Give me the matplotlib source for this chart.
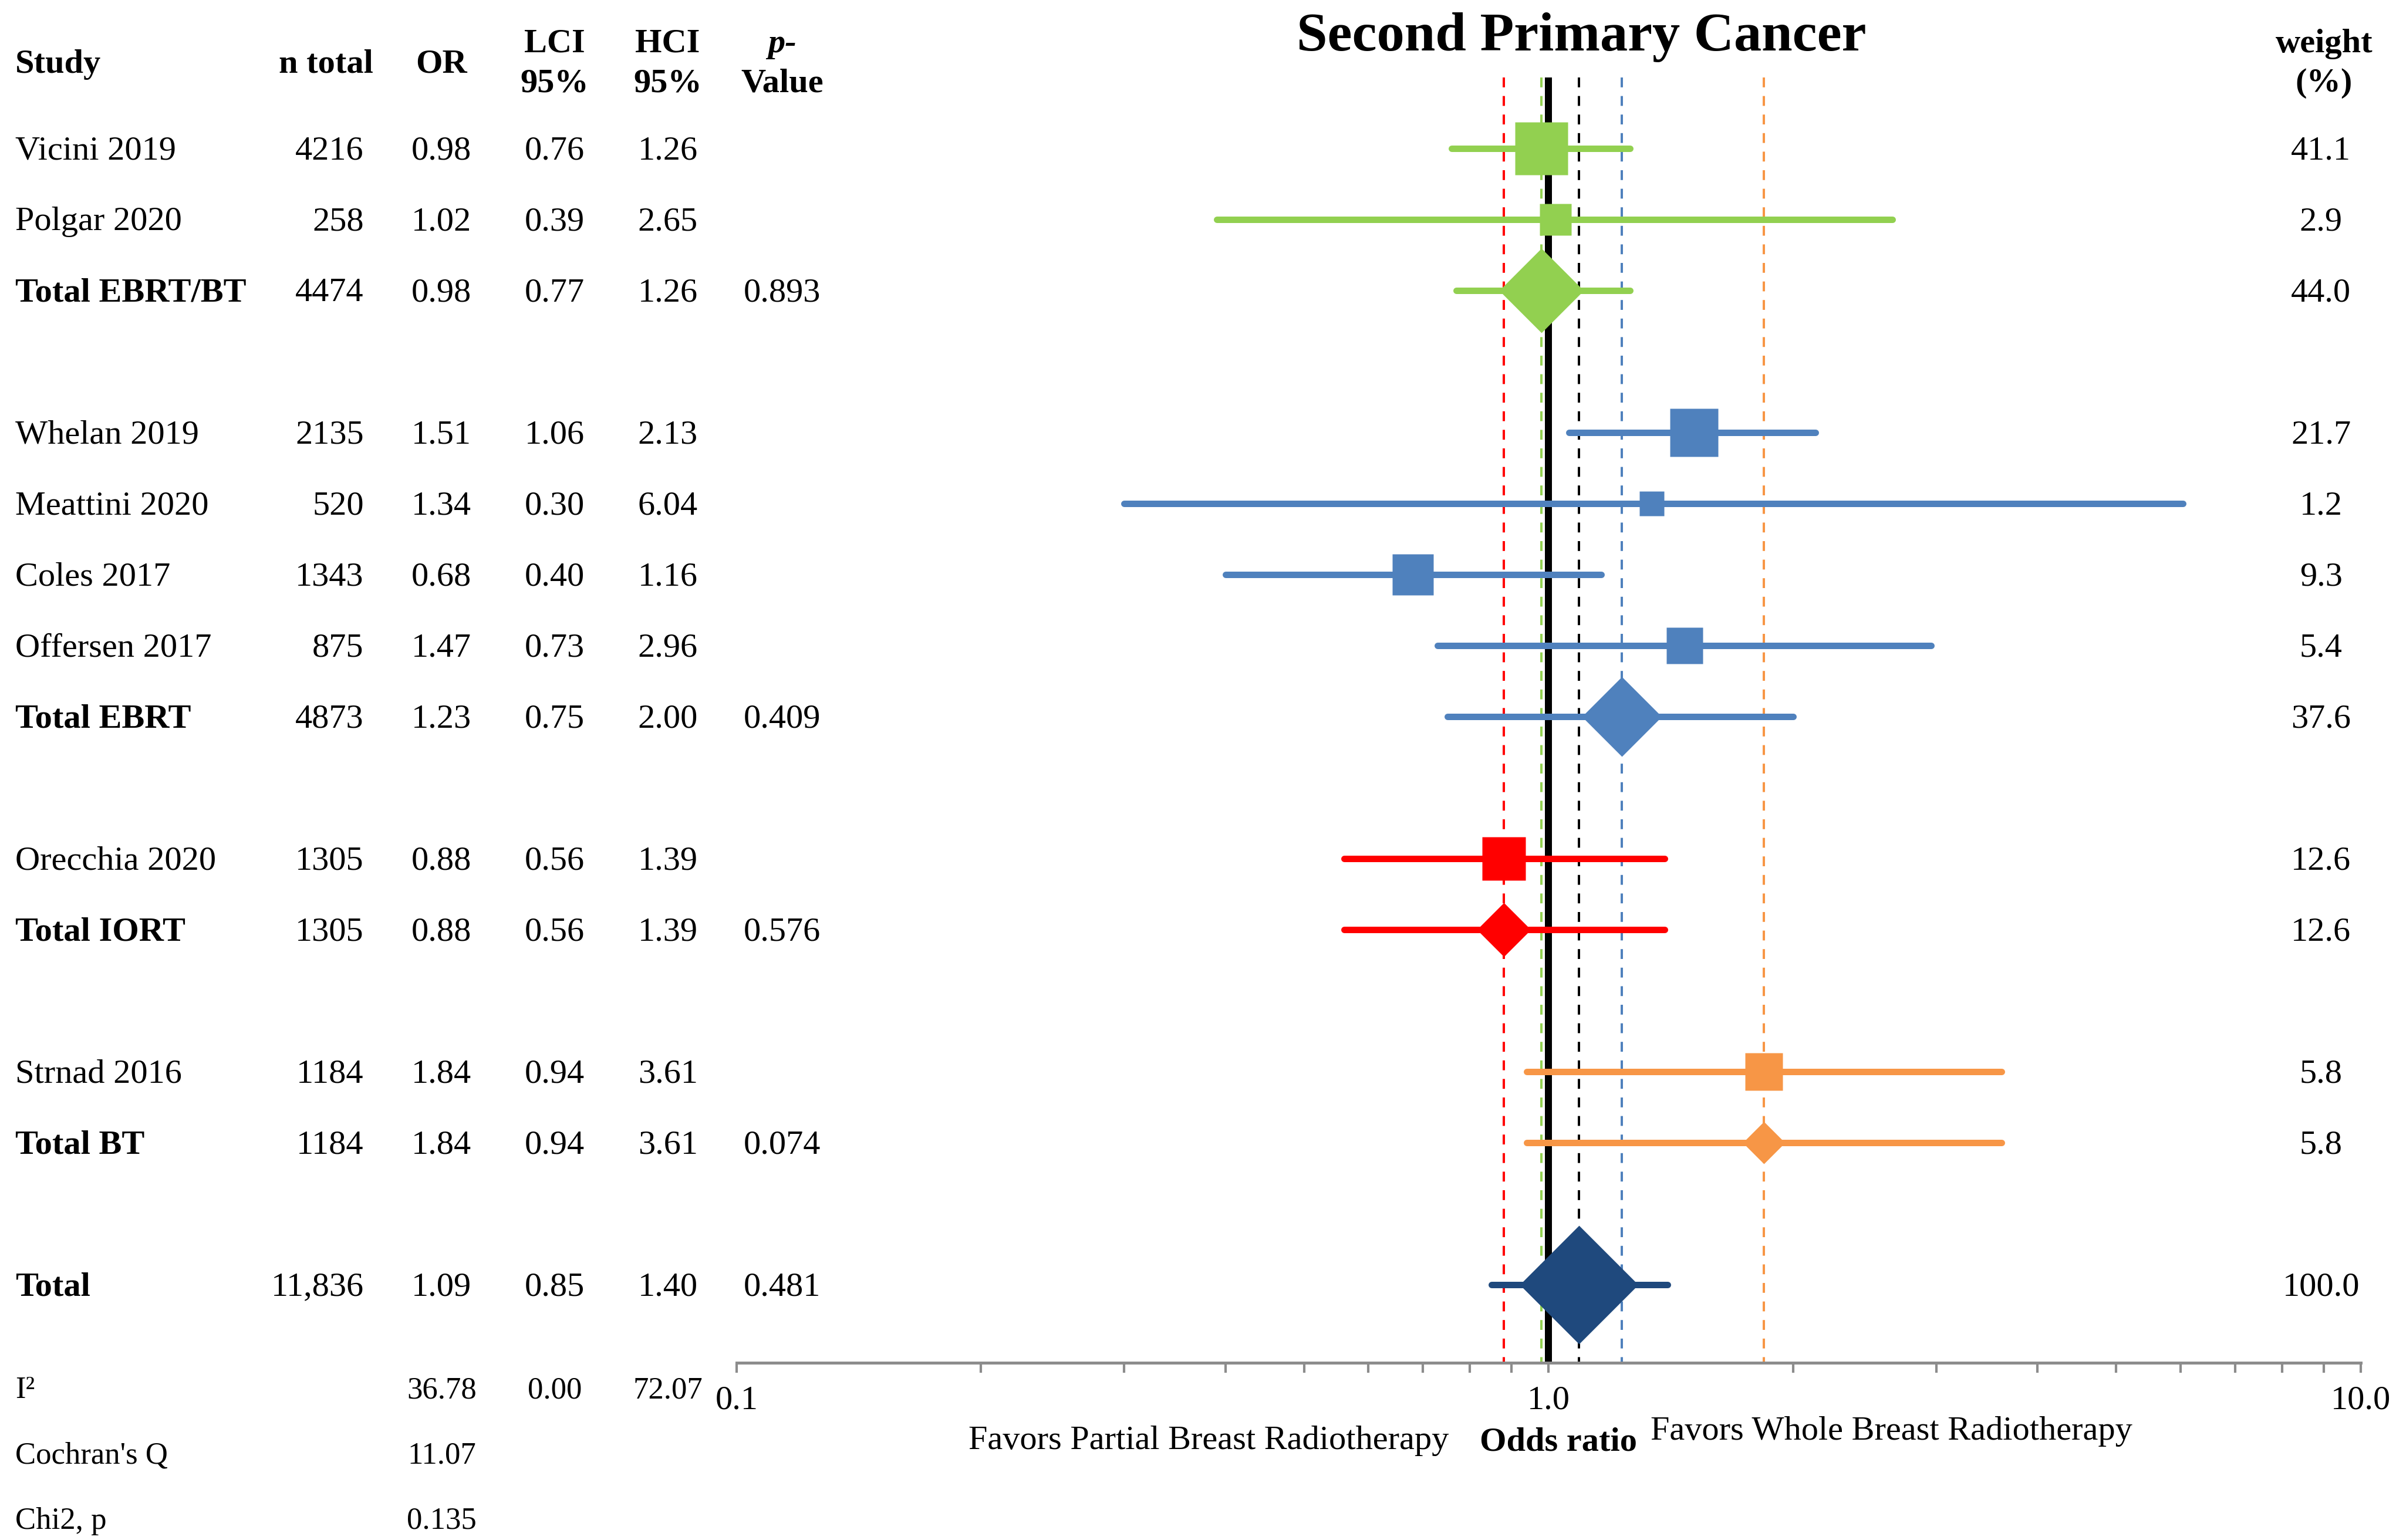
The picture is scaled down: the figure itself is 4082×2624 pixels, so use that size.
import numpy as np
import matplotlib
matplotlib.use("Agg")
import matplotlib.pyplot as plt
from matplotlib import transforms
from matplotlib.ticker import LogLocator, NullFormatter

plt.rcParams['font.family'] = ['Liberation Serif', 'DejaVu Serif']

# ---- data ----
studies = ["Vicini 2019", "Polgar 2020", "Total EBRT/BT",
           "Whelan 2019", "Meattini 2020", "Coles 2017", "Offersen 2017", "Total EBRT",
           "Orecchia 2020", "Total IORT",
           "Strnad 2016", "Total BT",
           "Total"]
groups = ["EBRT/BT"] * 3 + ["EBRT"] * 5 + ["IORT"] * 2 + ["BT"] * 2 + ["All"]
n_total = ["4216", "258", "4474", "2135", "520", "1343", "875", "4873",
           "1305", "1305", "1184", "1184", "11,836"]
odds = [0.98, 1.02, 0.98, 1.51, 1.34, 0.68, 1.47, 1.23, 0.88, 0.88, 1.84, 1.84, 1.09]
lci = [0.76, 0.39, 0.77, 1.06, 0.30, 0.40, 0.73, 0.75, 0.56, 0.56, 0.94, 0.94, 0.85]
hci = [1.26, 2.65, 1.26, 2.13, 6.04, 1.16, 2.96, 2.00, 1.39, 1.39, 3.61, 3.61, 1.40]
p_values = ["", "", "0.893", "", "", "", "", "0.409", "", "0.576", "", "0.074", "0.481"]
weights = [41.1, 2.9, 44.0, 21.7, 1.2, 9.3, 5.4, 37.6, 12.6, 12.6, 5.8, 5.8, 100.0]
is_total = [False, False, True, False, False, False, False, True, False, True, False, True, True]

stat_labels = ["I\u00b2", "Cochran's Q", "Chi2, p"]
stat_or = ["36.78", "11.07", "0.135"]
stat_lci = ["0.00", "", ""]
stat_hci = ["72.07", "", ""]

group_colors = {"EBRT/BT": "#92D050", "EBRT": "#4F81BD", "IORT": "#FF0000",
                "BT": "#F79646", "All": "#1F497D"}

# row positions: one blank row between groups
rows = []
y = 0
prev = groups[0]
for g in groups:
    if g != prev:
        y += 1
        prev = g
    rows.append(y)
    y += 1

DPI = 200
k = 72 / DPI  # pixels -> points
FS = 21
dy = 0.04  # small text nudge so glyphs sit on the row centre

fig = plt.figure(figsize=(20.41, 13.12), dpi=DPI)
ax = fig.add_axes([0.3074, 0.1151, 0.6779, 0.8849])
ax.set_xscale('log')
ax.set_xlim(0.1, 10)
y_bottom = 17.1
ax.set_ylim(y_bottom, -2.087)

# reference lines
ax.vlines(1.0, -1.0, y_bottom, color='black', lw=12 * k, zorder=2)
for i, g in enumerate(groups):
    if is_total[i]:
        c = 'black' if g == "All" else group_colors[g]
        ax.vlines(odds[i], -1.0, y_bottom, colors=c, lw=4 * k,
                  linestyles=(0, (4.2, 3.7)), zorder=1.5)

# CI lines and markers
for i, g in enumerate(groups):
    c = group_colors[g]
    r = rows[i]
    ax.plot([lci[i], hci[i]], [r, r], color=c, lw=11 * k,
            solid_capstyle='round', zorder=3)
    if is_total[i]:
        d = 32 + 17 * np.sqrt(weights[i])
        ax.plot(odds[i], r, marker='D', ms=d / np.sqrt(2) * k, color=c,
                mec='none', zorder=4)
    else:
        s = 40 + 13.5 * np.log(weights[i])
        ax.plot(odds[i], r, marker='s', ms=s * k, color=c, mec='none', zorder=4)

# axis styling
for sp in ['left', 'top', 'right']:
    ax.spines[sp].set_visible(False)
ax.spines['bottom'].set_color('#8c8c8c')
ax.spines['bottom'].set_linewidth(5 * k)
ax.set_yticks([])
ax.set_xticks([0.1, 1, 10])
ax.set_xticklabels(['0.1', '1.0', '10.0'])
ax.xaxis.set_minor_locator(LogLocator(base=10, subs=np.arange(2, 10)))
ax.xaxis.set_minor_formatter(NullFormatter())
ax.tick_params(axis='x', which='both', direction='out', color='#8c8c8c',
               width=1.5, length=6, labelsize=FS, pad=8)

# table text
bt = transforms.blended_transform_factory(fig.transFigure, ax.transData)
x_study, x_n, x_or, x_lci, x_hci, x_p, x_w = 0.0064, 0.1518, 0.1843, 0.2315, 0.2787, 0.3265, 0.9687

def txt(x, yy, s, ha='center', **kw):
    ax.text(x, yy + dy, s, transform=bt, ha=ha, va='center', fontsize=kw.pop('fontsize', FS),
            clip_on=False, **kw)

# headers
txt(x_study, -1.22, "Study", ha='left', fontweight='bold')
txt(0.136, -1.22, "n total", fontweight='bold')
txt(x_or, -1.22, "OR", fontweight='bold')
txt(x_lci, -1.51, "LCI", fontweight='bold')
txt(x_lci, -0.95, "95%", fontweight='bold')
txt(x_hci, -1.51, "HCI", fontweight='bold')
txt(x_hci, -0.95, "95%", fontweight='bold')
txt(x_p, -1.51, "p-", fontweight='bold', fontstyle='italic')
txt(x_p, -0.95, "Value", fontweight='bold')
txt(0.970, -1.51, "weight", fontweight='bold')
txt(0.970, -0.95, "(%)", fontweight='bold')
txt(0.660, -1.60, "Second Primary Cancer", fontweight='bold', fontsize=34)

for i in range(len(studies)):
    r = rows[i]
    txt(x_study, r, studies[i], ha='left', fontweight='bold' if is_total[i] else 'normal')
    txt(x_n, r, n_total[i], ha='right')
    txt(x_or, r, f"{odds[i]:.2f}")
    txt(x_lci, r, f"{lci[i]:.2f}")
    txt(x_hci, r, f"{hci[i]:.2f}")
    txt(x_p, r, p_values[i])
    txt(x_w, r, f"{weights[i]:.1f}")

# heterogeneity stats
for j, lab in enumerate(stat_labels):
    yy = 17.45 + 0.92 * j
    txt(x_study, yy, lab, ha='left', fontsize=FS - 2)
    txt(x_or, yy, stat_or[j], fontsize=FS - 2)
    txt(x_lci, yy, stat_lci[j], fontsize=FS - 2)
    txt(x_hci, yy, stat_hci[j], fontsize=FS - 2)

# bottom labels
txt(0.5044, 18.16, "Favors Partial Breast Radiotherapy")
txt(0.6504, 18.18, "Odds ratio", fontweight='bold')
txt(0.7895, 18.03, "Favors Whole Breast Radiotherapy")

fig.savefig("out.png", dpi=DPI)
